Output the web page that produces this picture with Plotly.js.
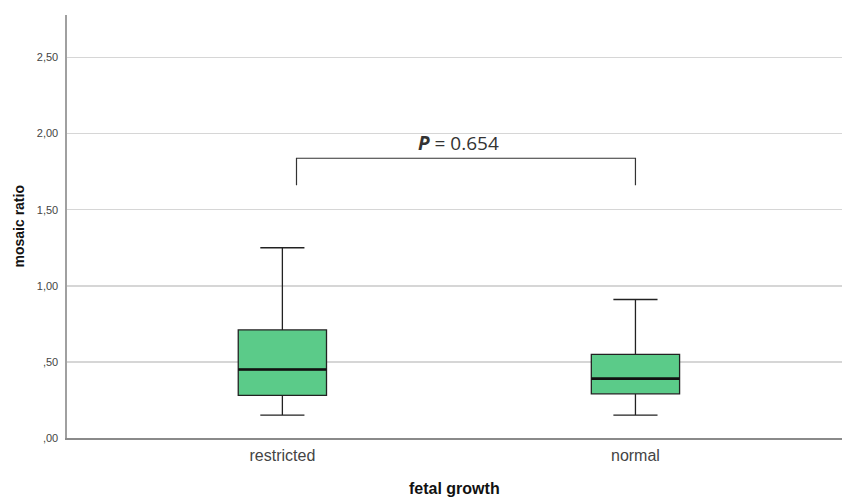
<!DOCTYPE html>
<html>
<head>
<meta charset="utf-8">
<script src="https://cdn.plot.ly/plotly-3.0.1.min.js"></script>
<style>html,body{margin:0;padding:0;background:#fff;}#chart{width:842px;height:498px;}</style>
</head>
<body>
<div id="chart"></div>
<script>
var categories = ["restricted", "normal"];
var lowerWhisker = [0.15, 0.15];
var q1 = [0.28, 0.29];
var median = [0.45, 0.39];
var q3 = [0.71, 0.55];
var upperWhisker = [1.25, 0.91];
var yTickVals = [0, 0.5, 1, 1.5, 2, 2.5];
var yTickText = [",00", ",50", "1,00", "1,50", "2,00", "2,50"];
var pText = "<b><i>P</i></b> = 0.654";
var xTitle = "fetal growth";
var yTitle = "mosaic ratio";

var positions = categories.map(function(c, i){ return i; });
var boxW = 0.25;
var fill = "#5BCB89";
var titleFont = {family: "Liberation Sans, Arial, sans-serif", size: 14, color: "#111"};

var traces = [{
  type: "box",
  x: positions,
  q1: q1, median: median, q3: q3,
  lowerfence: lowerWhisker, upperfence: upperWhisker,
  width: boxW,
  whiskerwidth: 0.5,
  fillcolor: fill,
  line: {color: "#222", width: 1.3},
  hoverinfo: "skip",
  showlegend: false
}];
// thicker median lines
positions.forEach(function(p, i){
  traces.push({
    type: "scatter", mode: "lines",
    x: [p - boxW/2, p + boxW/2], y: [median[i], median[i]],
    line: {color: "#111", width: 2.6},
    hoverinfo: "skip", showlegend: false
  });
});

var layout = {
  width: 842, height: 498,
  margin: {l: 67, r: 0, t: 15, b: 60},
  paper_bgcolor: "#fff", plot_bgcolor: "#fff",
  showlegend: false,
  xaxis: {
    range: [-0.61, 1.585],
    tickvals: positions, ticktext: categories,
    showgrid: false, zeroline: false,
    showline: true, linecolor: "#8a8a8a", linewidth: 2,
    ticks: "", ticklabelstandoff: 2,
    tickfont: {family: "Liberation Sans, Arial, sans-serif", size: 16, color: "#444"}
  },
  yaxis: {
    range: [0, 2.779],
    tickvals: yTickVals, ticktext: yTickText,
    showgrid: true, gridcolor: "#d6d6d6", gridwidth: 1.6,
    zeroline: false,
    showline: true, linecolor: "#a0a0a0", linewidth: 1.6,
    ticks: "", ticklabelstandoff: 5,
    tickfont: {family: "Liberation Sans, Arial, sans-serif", size: 11, color: "#444"}
  },
  shapes: [{
    type: "path", xref: "x", yref: "y",
    path: "M 0.04 1.66 L 0.04 1.838 L 1.0 1.838 L 1.0 1.66",
    line: {color: "#333", width: 1.2}
  }],
  annotations: [{
    xref: "x", yref: "y", x: 0.5, y: 1.94,
    text: pText, showarrow: false,
    font: {family: "Open Sans, Noto Sans, sans-serif", size: 19, color: "#333"}
  }, {
    xref: "paper", yref: "paper", x: 0, y: 0.5, xshift: -49,
    xanchor: "center", yanchor: "middle", textangle: -90,
    text: "<b>" + yTitle + "</b>", showarrow: false, font: titleFont
  }, {
    xref: "paper", yref: "paper", x: 0.5, y: 0, yshift: -50,
    xanchor: "center", yanchor: "middle",
    text: "<b>" + xTitle + "</b>", showarrow: false,
    font: {family: "Liberation Sans, Arial, sans-serif", size: 16, color: "#111"}
  }]
};

Plotly.newPlot("chart", traces, layout, {displayModeBar: false, staticPlot: true});
</script>
</body>
</html>
